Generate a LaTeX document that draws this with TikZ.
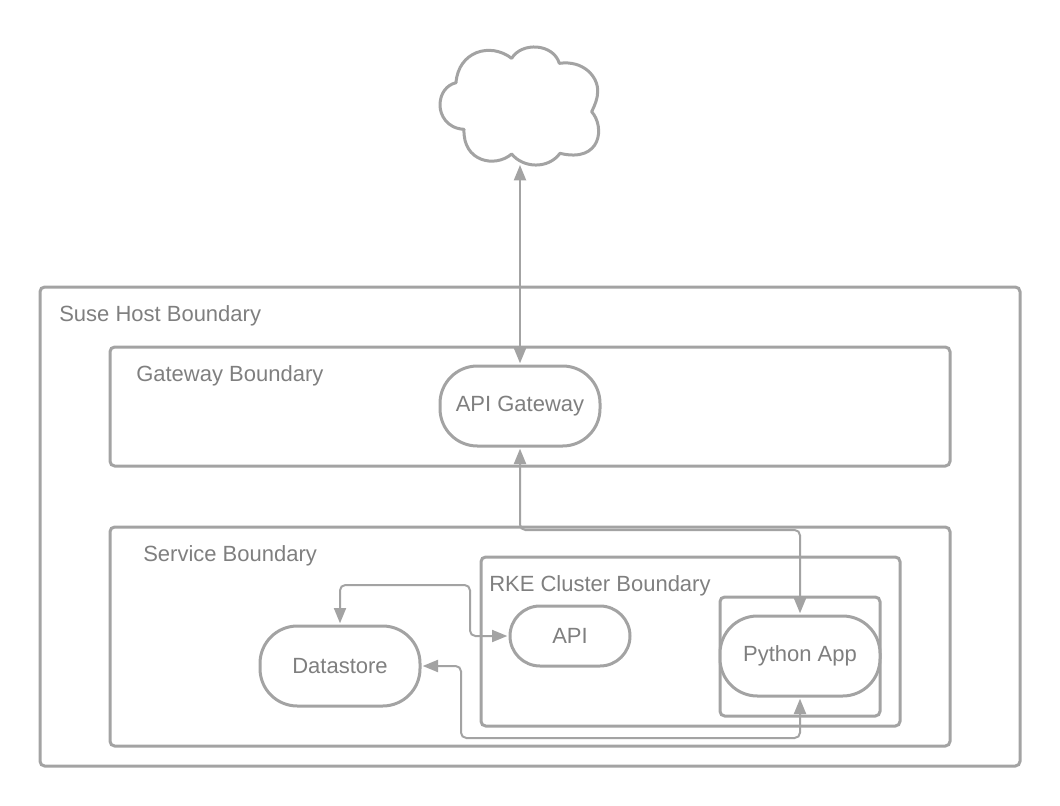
\documentclass[tikz,border=0pt]{standalone}
\usepackage{fontspec}
\setmainfont{Liberation Sans}
\usetikzlibrary{arrows.meta,calc}
\definecolor{linegray}{HTML}{A3A3A3}
\definecolor{textgray}{HTML}{7F7F7F}
\tikzset{
  boundary/.style={draw=linegray,line width=2.25pt,rounded corners=3.5pt,anchor=north west,inner sep=0pt,outer sep=0pt},
  pill/.style={draw=linegray,line width=2.25pt,fill=white,rounded corners=#1,text=textgray,font=\fontsize{16.5}{20}\selectfont,inner sep=0pt,outer sep=2pt},
  pill/.default=28pt,
  caption/.style={text=textgray,font=\fontsize{16.5}{20}\selectfont,anchor=base west,inner sep=0pt},
  link/.style={draw=linegray,line width=1.5pt,rounded corners=4pt,{Triangle[length=11.5pt,width=9pt]}-{Triangle[length=11.5pt,width=9pt]}},
  cloudline/.style={draw=linegray,line width=2.25pt,line join=round}
}
\begin{document}
\begin{tikzpicture}[x=0.75pt,y=-0.75pt]
\useasboundingbox (0,0) rectangle (1060,806);
% boundaries
\node[boundary,minimum width=735pt,minimum height=359.25pt] (suse) at (40,287) {};
\node[boundary,minimum width=630pt,minimum height=89.25pt] (gateway) at (110,347) {};
\node[boundary,minimum width=630pt,minimum height=164.25pt] (service) at (110,527) {};
\node[boundary,minimum width=314.25pt,minimum height=126.75pt] (rke) at (481,557) {};
\node[boundary,minimum width=120pt,minimum height=89.25pt] (pod) at (720,597) {};
% captions
\node[caption] (suselabel) at (59,321) {Suse Host Boundary};
\node[caption] (gatewaylabel) at (136,381) {Gateway Boundary};
\node[caption] (servicelabel) at (143,561) {Service Boundary};
\node[caption] (rkelabel) at (489,591) {RKE Cluster Boundary};
% cloud
\begin{scope}[shift={(420,30)},x=0.25pt,y=-0.25pt]
\draw[cloudline,fill=white]
  (108,158) .. controls (115,65) and (210,35) .. (275,85)
  .. controls (305,35) and (400,40) .. (418,100)
  .. controls (490,90) and (535,140) .. (533,185)
  .. controls (533,205) and (525,225) .. (515,245)
  .. controls (555,290) and (545,400) .. (420,370)
  .. controls (385,418) and (310,415) .. (275,372)
  .. controls (225,415) and (128,395) .. (132,298)
  .. controls (80,295) and (60,255) .. (60,225)
  .. controls (60,190) and (80,165) .. (108,158) -- cycle;
\end{scope}
\coordinate (cloudbase) at (520,165);
% nodes
\node[pill,minimum width=120pt,minimum height=60pt] (apigw) at (520,406) {API Gateway};
\node[pill,minimum width=120pt,minimum height=60pt] (datastore) at (340,666) {Datastore};
\node[pill=22.5pt,minimum width=90pt,minimum height=45pt] (api) at (570,636) {API};
\node[pill,minimum width=120pt,minimum height=60pt] (python) at (800,656) {Python App};
% connectors
\draw[link] (cloudbase) -- (apigw.north);
\draw[link] (apigw.south) -- (520,530) -- (800,530) -- (python.north);
\draw[link] (datastore.north) -- (340,585) -- (470,585) -- (470,636) -- (api.west);
\draw[link] (datastore.east) -- (461,666) -- (461,738) -- (800,738) -- (python.south);
\end{tikzpicture}
\end{document}
